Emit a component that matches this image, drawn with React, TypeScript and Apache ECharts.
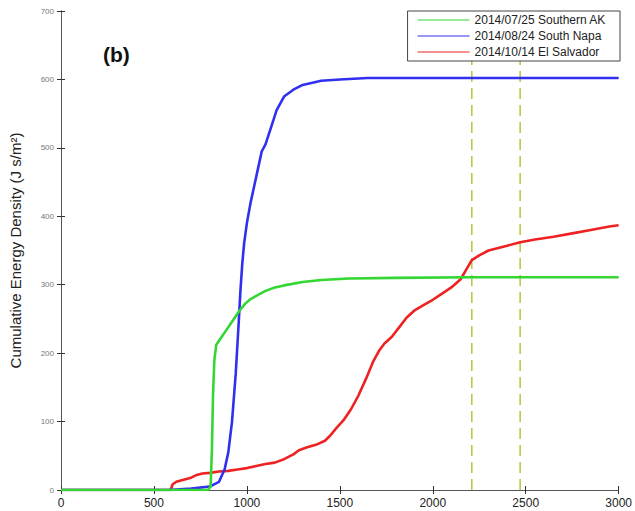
import React, { useEffect, useRef } from "react";
import * as echarts from "echarts";

const xTicks = [0, 500, 1000, 1500, 2000, 2500, 3000];
const seriesNames = ["2014/07/25 Southern AK", "2014/08/24 South Napa", "2014/10/14 El Salvador"];

const greenX = [0, 790, 805, 812, 818, 825, 835, 850, 880, 920, 960, 990, 1020, 1060, 1100, 1150, 1200, 1300, 1400, 1550, 1800, 2200, 3000];
const greenY = [0, 0, 5, 60, 140, 190, 212, 218, 230, 246, 262, 272, 279, 285, 291, 296, 299, 304, 307, 309, 310, 311, 311];

const blueX = [0, 580, 700, 800, 850, 880, 900, 920, 940, 955, 965, 975, 985, 1000, 1020, 1040, 1060, 1080, 1100, 1130, 1160, 1200, 1250, 1300, 1400, 1500, 1650, 3000];
const blueY = [0, 0, 2, 5, 12, 30, 55, 100, 170, 240, 290, 330, 360, 390, 420, 445, 470, 495, 505, 530, 555, 575, 585, 592, 598, 600, 602, 602];

const redX = [0, 590, 600, 620, 660, 700, 730, 760, 800, 850, 900, 950, 1000, 1050, 1100, 1150, 1200, 1250, 1280, 1320, 1380, 1420, 1450, 1480, 1520, 1560, 1600, 1640, 1680, 1710, 1740, 1780, 1820, 1860, 1900, 1950, 2000, 2050, 2100, 2150, 2180, 2210, 2250, 2300, 2400, 2470, 2550, 2650, 2750, 2850, 2950, 3000];
const redY = [0, 0, 8, 12, 15, 18, 22, 24, 25, 27, 28, 30, 32, 35, 38, 40, 45, 52, 58, 62, 67, 72, 80, 90, 102, 118, 138, 162, 188, 203, 214, 224, 238, 252, 262, 270, 278, 287, 296, 308, 322, 336, 343, 350, 357, 362, 366, 370, 375, 380, 385, 387];

const dashedX = [2210, 2470];

const zip = (xs: number[], ys: number[]) => xs.map((x, i) => [x, ys[i]]);

export default function App() {
  const ref = useRef<HTMLDivElement>(null);
  useEffect(() => {
    document.body.style.margin = "0";
    const chart = echarts.init(ref.current!, null, { renderer: "svg" });
    const font = "'Liberation Sans', Arial, sans-serif";
    const boxAxis = {
      axisLine: { show: true, lineStyle: { color: "#555", width: 1 } },
      axisTick: { show: true, inside: true, length: 4, lineStyle: { color: "#333" } },
      axisLabel: { show: false },
      splitLine: { show: false },
    };
    chart.setOption({
      animation: false,
      backgroundColor: "#fff",
      textStyle: { fontFamily: font },
      grid: { left: 55, right: 15, top: 11, bottom: 21 },
      legend: {
        right: 15,
        top: 11,
        orient: "vertical",
        data: seriesNames,
        icon: "rect",
        itemWidth: 52,
        itemHeight: 1.2,
        itemGap: 4,
        padding: [3, 14, 3, 10],
        borderColor: "#444",
        borderWidth: 1,
        backgroundColor: "#fff",
        textStyle: { fontSize: 12, color: "#222", fontFamily: font },
      },
      xAxis: [
        {
          type: "value",
          min: xTicks[0],
          max: xTicks[xTicks.length - 1],
          interval: 500,
          ...boxAxis,
          axisLabel: {
            show: true,
            fontSize: 12,
            color: "#222",
            margin: 7,
            fontFamily: font,
            formatter: (v: number) => String(v),
          },
        },
        { type: "value", position: "top", min: 0, max: 3000, interval: 500, ...boxAxis },
      ],
      yAxis: [
        {
          type: "value",
          min: 0,
          max: 700,
          interval: 100,
          ...boxAxis,
          name: "Cumulative Energy Density (J s/m²)",
          nameLocation: "middle",
          nameGap: 38,
          nameTextStyle: { fontSize: 15, color: "#222", fontFamily: font },
          axisLabel: { show: true, fontSize: 8, color: "#777", margin: 7, fontFamily: font },
        },
        { type: "value", position: "right", min: 0, max: 700, interval: 100, ...boxAxis },
      ],
      graphic: [
        {
          type: "text",
          left: 103,
          top: 44,
          style: { text: "(b)", font: `bold 21px ${font}`, fill: "#111" },
        },
      ],
      series: [
        ...dashedX.map((x) => ({
          type: "line",
          name: "dash" + x,
          data: [[x, 0], [x, 700]],
          showSymbol: false,
          silent: true,
          z: 1,
          lineStyle: { color: "#b5c43a", width: 1.5, type: [11, 6] },
        })),
        {
          type: "line",
          name: seriesNames[2],
          data: zip(redX, redY),
          showSymbol: false,
          color: "#ee2222",
          lineStyle: { width: 2.6 },
          z: 3,
        },
        {
          type: "line",
          name: seriesNames[1],
          data: zip(blueX, blueY),
          showSymbol: false,
          color: "#3030ee",
          lineStyle: { width: 2.6 },
          z: 4,
        },
        {
          type: "line",
          name: seriesNames[0],
          data: zip(greenX, greenY),
          showSymbol: false,
          color: "#33d633",
          lineStyle: { width: 2.6 },
          z: 5,
        },
      ],
    });
    return () => chart.dispose();
  }, []);
  return <div ref={ref} style={{ width: 635, height: 511 }} />;
}
